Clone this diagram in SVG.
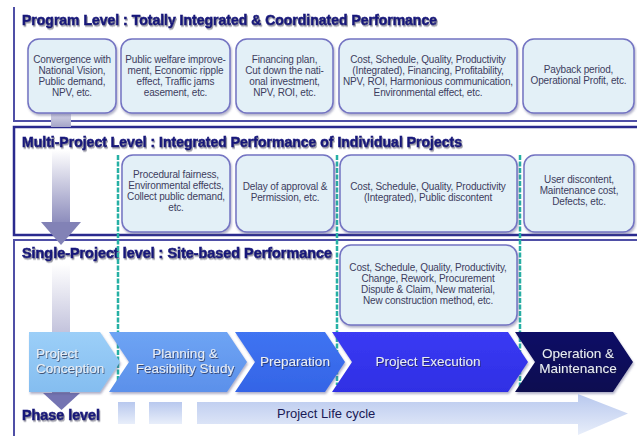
<svg xmlns="http://www.w3.org/2000/svg" width="637" height="436" viewBox="0 0 637 436">
  <defs>
    <filter id="txtShadow" x="-5%" y="-30%" width="110%" height="160%">
      <feDropShadow dx="1" dy="1.5" stdDeviation="0.7" flood-color="#7a7a8a" flood-opacity="0.8"/>
    </filter>
    <filter id="boxShadow" x="-5%" y="-5%" width="115%" height="120%">
      <feDropShadow dx="1" dy="2" stdDeviation="1" flood-color="#555588" flood-opacity="0.45"/>
    </filter>
    <filter id="lightShadow" x="-10%" y="-30%" width="120%" height="160%">
      <feDropShadow dx="0.8" dy="1" stdDeviation="0.6" flood-color="#202040" flood-opacity="0.7"/>
    </filter>
    <linearGradient id="shaftGrad" x1="0" y1="0" x2="0" y2="1">
      <stop offset="0" stop-color="#ffffff"/>
      <stop offset="1" stop-color="#8c8cbc"/>
    </linearGradient>
    <linearGradient id="stubGrad" x1="0" y1="0" x2="0" y2="1">
      <stop offset="0" stop-color="#d4d4e6"/>
      <stop offset="1" stop-color="#a4a4c8"/>
    </linearGradient>
    <linearGradient id="lifeGrad" x1="0" y1="0" x2="0" y2="1">
      <stop offset="0" stop-color="#b8c8ee"/>
      <stop offset="1" stop-color="#e8eefa"/>
    </linearGradient>
    <linearGradient id="ch1Grad" x1="0" y1="0" x2="0" y2="1">
      <stop offset="0" stop-color="#9ccff8"/>
      <stop offset="1" stop-color="#84bdf0"/>
    </linearGradient>
    <linearGradient id="ch2Grad" x1="0" y1="0" x2="0" y2="1">
      <stop offset="0" stop-color="#6ea4f4"/>
      <stop offset="1" stop-color="#5b90ea"/>
    </linearGradient>
    <linearGradient id="ch3Grad" x1="0" y1="0" x2="0" y2="1">
      <stop offset="0" stop-color="#3f74f2"/>
      <stop offset="1" stop-color="#3464e6"/>
    </linearGradient>
    <linearGradient id="ch4Grad" x1="0" y1="0" x2="0" y2="1">
      <stop offset="0" stop-color="#3a3af4"/>
      <stop offset="1" stop-color="#2f2fe4"/>
    </linearGradient>
    <linearGradient id="ch5Grad" x1="0" y1="0" x2="0" y2="1">
      <stop offset="0" stop-color="#0c0c66"/>
      <stop offset="1" stop-color="#070750"/>
    </linearGradient>
    <style>
      .frame { fill: none; stroke: #4f4fa6; stroke-width: 2; }
      .frameDark { fill: none; stroke: #2a2a8e; stroke-width: 2.5; }
      .title { font-family: "Liberation Sans", Arial, sans-serif; font-weight: bold; font-size: 14px; fill: #16167a; stroke: #16167a; stroke-width: 0.6; filter: url(#txtShadow); }
      .card { fill: #e3f0f7; stroke: #7373c2; stroke-width: 1.5; filter: url(#boxShadow); }
      .cardText { font-family: "Liberation Sans", Arial, sans-serif; font-size: 10px; fill: #3d3d5e; text-anchor: middle; letter-spacing: -0.15px; }
      .divider { fill: none; stroke: #26b0a4; stroke-width: 2.5; stroke-dasharray: 5 1.5; }
      .phaseText { font-family: "Liberation Sans", Arial, sans-serif; font-size: 13.5px; fill: #e8edf4; filter: url(#lightShadow); }
      .lifeText { font-family: "Liberation Sans", Arial, sans-serif; font-size: 13px; fill: #1a1a55; }
    </style>
  </defs>

  <rect width="637" height="436" fill="#ffffff"/>

  <!-- level frames -->
  <g id="frames">
    <path class="frame" d="M637 121 H14 V7"/>
    <path class="frameDark" d="M637 127 H14 V235 H637"/>
    <path class="frame" d="M637 240 H14 V436"/>
  </g>

  <!-- downward flow arrows between levels -->
  <g id="level-arrows">
    <rect x="51" y="114" width="20" height="13" fill="url(#stubGrad)"/>
    <rect x="52" y="150" width="18" height="73" fill="url(#shaftGrad)"/>
    <path d="M41 222 H81 L61 245 Z" fill="#8282b6"/>
    <rect x="52" y="264" width="18" height="132" fill="url(#shaftGrad)"/>
    <path d="M43 393 H80 L61.5 410 Z" fill="#7474b2"/>
  </g>

  <!-- level titles -->
  <text class="title" x="22" y="25" textLength="415" lengthAdjust="spacingAndGlyphs">Program Level : Totally Integrated &amp; Coordinated Performance</text>
  <text class="title" x="22" y="147" textLength="440" lengthAdjust="spacingAndGlyphs">Multi-Project Level : Integrated Performance of Individual Projects</text>
  <text class="title" x="22" y="258" textLength="310" lengthAdjust="spacingAndGlyphs">Single-Project level : Site-based Performance</text>

  <!-- phase boundaries -->
  <g id="connectors">
    <line class="divider" x1="118" y1="155" x2="118" y2="385"/>
    <line class="divider" x1="337" y1="155" x2="337" y2="385"/>
    <line class="divider" x1="520" y1="155" x2="520" y2="388"/>
  </g>

  <!-- program level cards -->
  <g id="prog-vision">
    <rect class="card" x="28" y="39" width="88" height="74" rx="11"/>
    <text class="cardText" x="72" y="63">Convergence with</text>
    <text class="cardText" x="72" y="74">National Vision,</text>
    <text class="cardText" x="72" y="85">Public demand,</text>
    <text class="cardText" x="72" y="96">NPV, etc.</text>
  </g>
  <g id="prog-welfare">
    <rect class="card" x="121" y="39" width="109" height="74" rx="11"/>
    <text class="cardText" x="175.5" y="63">Public welfare improve-</text>
    <text class="cardText" x="175.5" y="74">ment, Economic ripple</text>
    <text class="cardText" x="175.5" y="85">effect, Traffic jams</text>
    <text class="cardText" x="175.5" y="96">easement, etc.</text>
  </g>
  <g id="prog-financing">
    <rect class="card" x="236" y="39" width="97" height="74" rx="11"/>
    <text class="cardText" x="284.5" y="63">Financing plan,</text>
    <text class="cardText" x="284.5" y="74">Cut down the nati-</text>
    <text class="cardText" x="284.5" y="85">onal investment,</text>
    <text class="cardText" x="284.5" y="96">NPV, ROI, etc.</text>
  </g>
  <g id="prog-integrated">
    <rect class="card" x="339" y="39" width="178" height="74" rx="11"/>
    <text class="cardText" x="428" y="63">Cost, Schedule, Quality, Productivity</text>
    <text class="cardText" x="428" y="74">(Integrated), Financing, Profitability,</text>
    <text class="cardText" x="428" y="85">NPV, ROI, Harmonious communication,</text>
    <text class="cardText" x="428" y="96">Environmental effect, etc.</text>
  </g>
  <g id="prog-payback">
    <rect class="card" x="523" y="39" width="111" height="74" rx="11"/>
    <text class="cardText" x="578.5" y="73">Payback period,</text>
    <text class="cardText" x="578.5" y="84">Operational Profit, etc.</text>
  </g>

  <!-- multi-project level cards -->
  <g id="multi-procedural">
    <rect class="card" x="122" y="155" width="108" height="77" rx="11"/>
    <text class="cardText" x="176" y="178">Procedural fairness,</text>
    <text class="cardText" x="176" y="189">Environmental effects,</text>
    <text class="cardText" x="176" y="200">Collect public demand,</text>
    <text class="cardText" x="176" y="211">etc.</text>
  </g>
  <g id="multi-approval">
    <rect class="card" x="236" y="155" width="98" height="77" rx="11"/>
    <text class="cardText" x="285" y="190">Delay of approval &amp;</text>
    <text class="cardText" x="285" y="201">Permission, etc.</text>
  </g>
  <g id="multi-integrated">
    <rect class="card" x="340" y="155" width="177" height="77" rx="11"/>
    <text class="cardText" x="428" y="190">Cost, Schedule, Quality, Productivity</text>
    <text class="cardText" x="428" y="201">(Integrated), Public discontent</text>
  </g>
  <g id="multi-user">
    <rect class="card" x="524" y="155" width="110" height="77" rx="11"/>
    <text class="cardText" x="579" y="183">User discontent,</text>
    <text class="cardText" x="579" y="194">Maintenance cost,</text>
    <text class="cardText" x="579" y="205">Defects, etc.</text>
  </g>

  <!-- single-project level card -->
  <g id="single-site">
    <rect class="card" x="340" y="245" width="177" height="80" rx="11"/>
    <text class="cardText" x="428" y="271">Cost, Schedule, Quality, Productivity,</text>
    <text class="cardText" x="428" y="282">Change, Rework, Procurement</text>
    <text class="cardText" x="428" y="293">Dispute &amp; Claim, New material,</text>
    <text class="cardText" x="428" y="304">New construction method, etc.</text>
  </g>

  <!-- project phase chevrons -->
  <g id="phase-conception" filter="url(#boxShadow)">
    <path d="M29 332 H100 L120 362 L100 392 H29 Z" fill="url(#ch1Grad)"/>
    <text class="phaseText" x="36" y="358">Project</text>
    <text class="phaseText" x="36" y="373">Conception</text>
  </g>
  <g id="phase-planning" filter="url(#boxShadow)">
    <path d="M109 332 H227 L247 362 L227 392 H109 L129 362 Z" fill="url(#ch2Grad)"/>
    <text class="phaseText" x="185" y="358" text-anchor="middle">Planning &amp;</text>
    <text class="phaseText" x="185" y="373" text-anchor="middle">Feasibility Study</text>
  </g>
  <g id="phase-preparation" filter="url(#boxShadow)">
    <path d="M235 332 H325 L345 362 L325 392 H235 L255 362 Z" fill="url(#ch3Grad)"/>
    <text class="phaseText" x="295" y="366" text-anchor="middle">Preparation</text>
  </g>
  <g id="phase-execution" filter="url(#boxShadow)">
    <path d="M332 332 H508 L528 362 L508 392 H332 L352 362 Z" fill="url(#ch4Grad)"/>
    <text class="phaseText" x="428" y="366" text-anchor="middle">Project Execution</text>
  </g>
  <g id="phase-operation" filter="url(#boxShadow)">
    <path d="M515 332 H613 L633 362 L613 392 H515 L535 362 Z" fill="url(#ch5Grad)"/>
    <text class="phaseText" x="578" y="358" text-anchor="middle">Operation &amp;</text>
    <text class="phaseText" x="578" y="373" text-anchor="middle">Maintenance</text>
  </g>

  <!-- life cycle band -->
  <g id="life-cycle">
    <rect x="118" y="402" width="17" height="22" fill="url(#lifeGrad)"/>
    <rect x="149" y="402" width="33" height="22" fill="url(#lifeGrad)"/>
    <path d="M197 402 H578 V394 L628 413.5 L578 435 V424 H197 Z" fill="url(#lifeGrad)"/>
    <text class="lifeText" x="277" y="418">Project Life cycle</text>
  </g>

  <text class="title" x="22" y="420" font-size="13" textLength="78" lengthAdjust="spacingAndGlyphs">Phase level</text>
</svg>
